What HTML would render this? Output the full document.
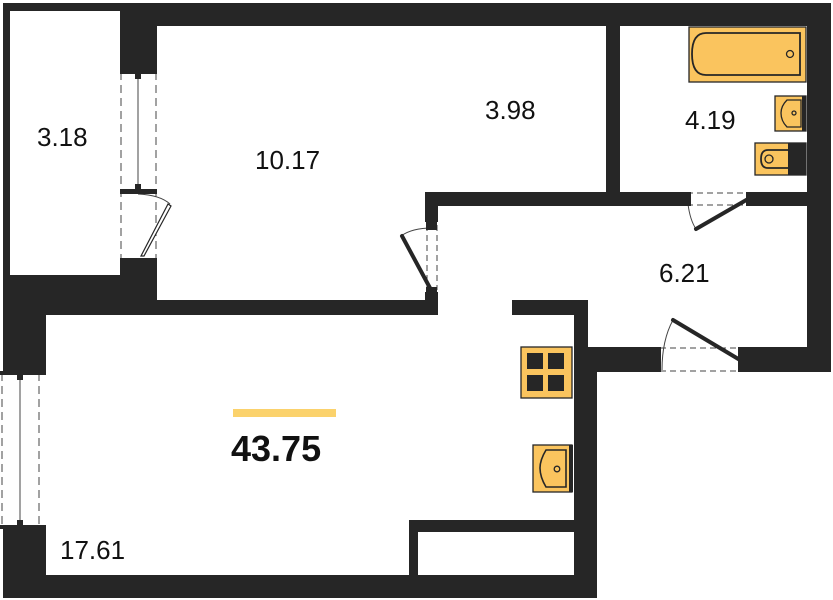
<!DOCTYPE html>
<html><head><style>html,body{margin:0;padding:0;background:#fff}svg{display:block}</style></head><body>
<svg width="833" height="600" viewBox="0 0 833 600" xmlns="http://www.w3.org/2000/svg" font-family="Liberation Sans, sans-serif">
<rect width="833" height="600" fill="#fff"/>
<g fill="#262626">
<!-- top walls -->
<rect x="3" y="3" width="828" height="8"/>
<rect x="120" y="3" width="711" height="23"/>
<rect x="3" y="3" width="7" height="300"/>
<rect x="120" y="3" width="37" height="69"/>
<rect x="120" y="258" width="37" height="45"/>
<rect x="3" y="275" width="154" height="28"/>
<rect x="3" y="275" width="43" height="98"/>
<rect x="3" y="527" width="43" height="71"/>
<rect x="3" y="575" width="594" height="23"/>
<rect x="40" y="300" width="398" height="15"/>
<rect x="425" y="192" width="13" height="30"/>
<rect x="425" y="292" width="13" height="23"/>
<rect x="425" y="192" width="260" height="14"/>
<rect x="752" y="192" width="79" height="14"/>
<rect x="606" y="3" width="14" height="200"/>
<rect x="807" y="3" width="24" height="369"/>
<rect x="512" y="300" width="76" height="15"/>
<rect x="574" y="300" width="14" height="60"/>
<rect x="574" y="347" width="23" height="251"/>
<rect x="574" y="347" width="84" height="25"/>
<rect x="743" y="347" width="88" height="25"/>
<rect x="409" y="520" width="9" height="60"/>
<rect x="409" y="520" width="170" height="12"/>
</g>
<!-- windows -->
<g stroke="#444" stroke-width="1" fill="none">
<line x1="121" y1="72" x2="121" y2="258" stroke-dasharray="8,5"/>
<line x1="156" y1="72" x2="156" y2="258" stroke-dasharray="8,5"/>
<line x1="138" y1="76" x2="138" y2="186"/>
<line x1="2" y1="373" x2="2" y2="527" stroke-dasharray="8,5"/>
<line x1="39" y1="373" x2="39" y2="527" stroke-dasharray="8,5"/>
<line x1="20" y1="378" x2="20" y2="522"/>
<line x1="427" y1="225" x2="427" y2="290" stroke-dasharray="6,4"/>
<line x1="437" y1="225" x2="437" y2="290" stroke-dasharray="6,4"/>
<line x1="687" y1="193" x2="752" y2="193" stroke-dasharray="6,4"/>
<line x1="687" y1="205" x2="752" y2="205" stroke-dasharray="6,4"/>
<line x1="660" y1="348" x2="742" y2="348" stroke-dasharray="6,4"/>
<line x1="660" y1="371" x2="742" y2="371" stroke-dasharray="6,4"/>
<path d="M138 194 Q160 195 170 204"/>
<path d="M432 228 Q412 228 401 236"/>
<path d="M688 204 Q690 220 696 229"/>
<path d="M662 370 Q662 340 673 320"/>
</g>
<g fill="#262626">
<rect x="120" y="70" width="37" height="4"/><rect x="135" y="74" width="6" height="5"/>
<rect x="120" y="189" width="37" height="5"/><rect x="135" y="184" width="6" height="5"/>
<rect x="0" y="371" width="46" height="4"/><rect x="17" y="375" width="6" height="5"/>
<rect x="0" y="525" width="46" height="4"/><rect x="17" y="520" width="6" height="5"/>
<rect x="426" y="222" width="11" height="8"/><rect x="426" y="287" width="11" height="8"/>
<rect x="685" y="192" width="6" height="14"/><rect x="746" y="192" width="6" height="14"/>
<rect x="655" y="347" width="6" height="25"/><rect x="738" y="347" width="6" height="25"/>
</g>
<g stroke="#262626" stroke-width="4" stroke-linecap="round">
<line x1="402" y1="236" x2="430" y2="288"/>
<line x1="696" y1="229" x2="748" y2="199"/>
<line x1="673" y1="320" x2="740" y2="360"/>
</g>
<path d="M141 256 L168 204 L171 206 L144 256 Z" fill="#fff" stroke="#262626" stroke-width="1.2"/>
<!-- fixtures -->
<g stroke="#262626" stroke-width="1.3">
<rect x="689" y="27" width="117" height="55" fill="#fac45e"/>
<path d="M800 33 L706 33 Q692 33 692 54 Q692 75 706 75 L800 75 Z" fill="none" stroke-width="1.8"/>
<circle cx="790" cy="54" r="3.5" fill="none"/>
<rect x="775" y="96" width="31" height="35" fill="#fac45e"/>
<path d="M801 100 L787 100 Q781 106 781 113 Q781 121 787 127 L801 127 Z" fill="none"/>
<circle cx="794" cy="113" r="2" fill="none"/>
<rect x="755" y="143" width="51" height="32" fill="#fac45e"/>
<path d="M790 150 L768 150 Q761 150 761 159 Q761 168 768 168 L790 168" fill="none" stroke-width="1.8"/>
<circle cx="769" cy="159" r="4" fill="none"/>
<rect x="521" y="347" width="51" height="51" fill="#fac45e"/>
<rect x="533" y="445" width="39" height="47" fill="#fac45e"/>
<path d="M566 450 L546 450 Q540 460 540 468 Q540 477 546 487 L566 487 Z" fill="none" stroke-width="1.6"/>
<circle cx="557" cy="469" r="2.8" fill="none"/>
</g>
<rect x="788" y="143" width="18" height="32" fill="#262626"/>
<rect x="802" y="96" width="4" height="35" fill="#262626"/>
<g fill="#262626">
<rect x="527" y="353" width="16" height="16"/><rect x="548" y="353" width="16" height="16"/>
<rect x="527" y="375" width="16" height="16"/><rect x="548" y="375" width="16" height="16"/>
<rect x="569" y="445" width="4" height="47"/>
</g>
<rect x="233" y="409" width="103" height="8" fill="#fbd26c"/>
<g fill="#111" font-size="26">
<text x="37" y="146">3.18</text>
<text x="255" y="169">10.17</text>
<text x="485" y="119">3.98</text>
<text x="685" y="129">4.19</text>
<text x="659" y="282">6.21</text>
<text x="60" y="559">17.61</text>
<text x="231" y="461" font-size="36" font-weight="bold">43.75</text>
</g>
</svg>
</body></html>
